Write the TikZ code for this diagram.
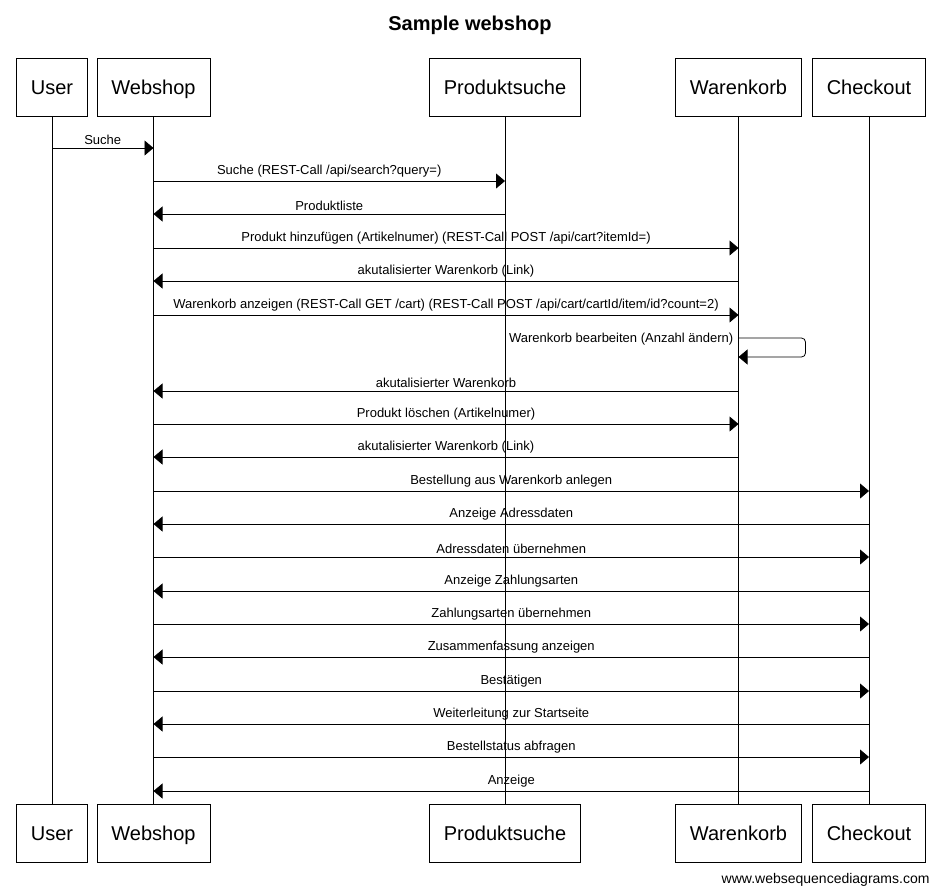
\documentclass[tikz,border=0pt]{standalone}
\usepackage{fontspec}
\setmainfont{Liberation Sans}
\usetikzlibrary{arrows.meta,positioning,calc}

\tikzset{
  actor/.style={draw, line width=0.8pt, minimum height=58pt, inner xsep=14.5pt, text height=14.3pt, text depth=0pt, font=\fontsize{20}{24}\selectfont},
  msg/.style={line width=0.8pt, -{Triangle[length=9pt,width=15pt]}},
  lbl/.style={above, inner sep=3pt, font=\fontsize{13}{15}\selectfont},
  life/.style={line width=0.8pt}
}

\begin{document}
\begin{tikzpicture}[x=1pt,y=-1pt]
    \useasboundingbox (0,0) rectangle (941,895);

    % Title
    \node [font=\bfseries\fontsize{20}{24}\selectfont] (title) at (470,25) {Sample webshop};

    % Participants (top)
    \node [actor] (userT) at (52,87) {User};
    \node [actor] (webT) at (153.5,87) {Webshop};
    \node [actor] (prodT) at (505,87) {Produktsuche};
    \node [actor] (wkT) at (738.5,87) {Warenkorb};
    \node [actor] (coT) at (869,87) {Checkout};

    % Participants (bottom)
    \node [actor] (userB) at (52,833.5) {User};
    \node [actor] (webB) at (153.5,833.5) {Webshop};
    \node [actor] (prodB) at (505,833.5) {Produktsuche};
    \node [actor] (wkB) at (738.5,833.5) {Warenkorb};
    \node [actor] (coB) at (869,833.5) {Checkout};

    % Lifelines
    \draw [life] (userT) -- (userB);
    \draw [life] (webT) -- (webB);
    \draw [life] (prodT) -- (prodB);
    \draw [life] (wkT) -- (wkB);
    \draw [life] (coT) -- (coB);

    % Search
    \draw [msg] (userT |- 0,148) -- node [lbl] {Suche} (webT |- 0,148);
    \draw [msg] (webT |- 0,181) -- node [lbl] {Suche (REST-Call /api/search?query=)} (prodT |- 0,181);
    \draw [msg] (prodT |- 0,214) -- node [lbl] {Produktliste} (webT |- 0,214);

    % Cart
    \draw [msg] (webT |- 0,248) -- node [lbl] {Produkt hinzufügen (Artikelnumer) (REST-Call POST /api/cart?itemId=)} (wkT |- 0,248);
    \draw [msg] (wkT |- 0,281) -- node [lbl] {akutalisierter Warenkorb (Link)} (webT |- 0,281);
    \draw [msg] (webT |- 0,315) -- node [lbl] {Warenkorb anzeigen (REST-Call GET /cart) (REST-Call POST /api/cart/cartId/item/id?count=2)} (wkT |- 0,315);
    \draw [msg, rounded corners=4pt] (wkT |- 0,338) -- ([xshift=67pt]wkT |- 0,338) -- ([xshift=67pt]wkT |- 0,357) -- (wkT |- 0,357);
    \node [anchor=east, inner sep=5pt, font=\fontsize{13}{15}\selectfont] (selfLbl) at (wkT |- 0,339) {Warenkorb bearbeiten (Anzahl ändern)};
    \draw [msg] (wkT |- 0,391) -- node [lbl] {akutalisierter Warenkorb} (webT |- 0,391);
    \draw [msg] (webT |- 0,424) -- node [lbl] {Produkt löschen (Artikelnumer)} (wkT |- 0,424);
    \draw [msg] (wkT |- 0,457) -- node [lbl] {akutalisierter Warenkorb (Link)} (webT |- 0,457);

    % Checkout
    \draw [msg] (webT |- 0,491) -- node [lbl] {Bestellung aus Warenkorb anlegen} (coT |- 0,491);
    \draw [msg] (coT |- 0,524) -- node [lbl] {Anzeige Adressdaten} (webT |- 0,524);
    \draw [msg] (webT |- 0,557) -- node [lbl] {Adressdaten übernehmen} (coT |- 0,557);
    \draw [msg] (coT |- 0,591) -- node [lbl] {Anzeige Zahlungsarten} (webT |- 0,591);
    \draw [msg] (webT |- 0,624) -- node [lbl] {Zahlungsarten übernehmen} (coT |- 0,624);
    \draw [msg] (coT |- 0,657) -- node [lbl] {Zusammenfassung anzeigen} (webT |- 0,657);
    \draw [msg] (webT |- 0,691) -- node [lbl] {Bestätigen} (coT |- 0,691);
    \draw [msg] (coT |- 0,724) -- node [lbl] {Weiterleitung zur Startseite} (webT |- 0,724);
    \draw [msg] (webT |- 0,757) -- node [lbl] {Bestellstatus abfragen} (coT |- 0,757);
    \draw [msg] (coT |- 0,791) -- node [lbl] {Anzeige} (webT |- 0,791);

    % Footer
    \node [anchor=east, font=\fontsize{14}{16}\selectfont] (footer) at (933,880) {www.websequencediagrams.com};
\end{tikzpicture}
\end{document}
